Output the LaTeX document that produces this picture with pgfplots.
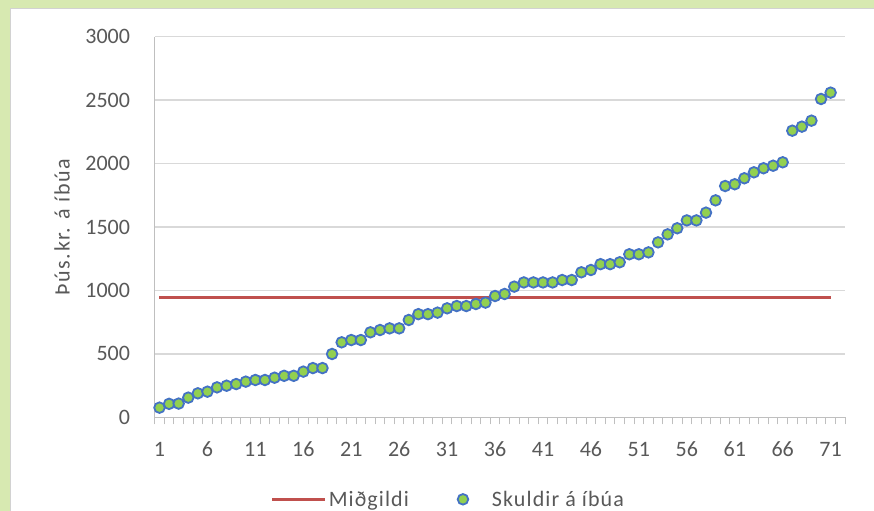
\documentclass[border=0pt]{standalone}
\usepackage{fontspec}
\setmainfont{Carlito}
\newfontfamily\spacedfont[LetterSpace=5]{Carlito}
\newfontfamily\ylabfont[LetterSpace=7]{Carlito}
\usepackage{pgfplots}
\pgfplotsset{compat=1.18}
\definecolor{bggreen}{HTML}{D7E9B1}
\definecolor{gridgray}{HTML}{D9D9D9}
\definecolor{axisgray}{HTML}{BFBFBF}
\definecolor{txtgray}{HTML}{595959}
\definecolor{medred}{HTML}{C0504D}
\definecolor{mkgreen}{HTML}{92D050}
\definecolor{mkblue}{HTML}{4472C4}
\newcommand{\chartfont}{\fontsize{22bp}{26bp}\selectfont}
\pgfplotsset{
  medlegend/.style={legend image code/.code={\draw[##1] (0bp,0bp) -- (53bp,0bp);}},
  dotlegend/.style={legend image code/.code={\path[draw=none,fill=none] (-6bp,0bp) -- (27bp,0bp); \path[##1,draw=none,fill=none] plot[only marks] coordinates {(0bp,0bp)};}},
}
\begin{document}
\begin{tikzpicture}[x=1bp,y=1bp]
\useasboundingbox (0,0) rectangle (874,511);
\fill[bggreen] (0,0) rectangle (874,511);
\fill[white] (10,0) rectangle (874,503);
\draw[gray!35, line width=0.8bp] (10.4,0) -- (10.4,502.6) -- (874,502.6);
\begin{axis}[
  at={(154.7bp,93.7bp)}, anchor=south west,
  scale only axis, width=690.3bp, height=380.6bp,
  xmin=0.5, xmax=72.5, ymin=0, ymax=3000,
  ytick={0,500,...,3000},
  xtick={1,6,...,71},
  minor xtick={0.5,1.5,...,72.5},
  major tick length=0pt,
  minor tick length=7bp,
  tick align=outside,
  xtick pos=bottom, ytick pos=left,
  axis lines*=left,
  axis line style={draw=axisgray, line width=1.2bp, -},
  minor tick style={draw=axisgray, line width=1bp},
  ymajorgrids,
  major grid style={draw=gridgray, line width=1.3bp},
  scaled y ticks=false,
  /pgf/number format/1000 sep={},
  /pgf/number format/assume math mode=true,
  tick label style={font=\chartfont, text=txtgray},
  yticklabel style={anchor=east, inner sep=0pt, xshift=-24.5bp},
  xticklabel style={anchor=north, inner sep=0pt, yshift=-24.5bp},
  ylabel={Þús.kr. á íbúa},
  ylabel style={at={(axis description cs:-0.1343,0.5)}, anchor=center, font=\chartfont\ylabfont, text=txtgray},
  legend style={at={(axis description cs:0.4256,-0.2155)}, anchor=center, draw=none, fill=none,
    legend columns=2, font=\chartfont\spacedfont, text=txtgray,
    /tikz/every even column/.append style={column sep=46bp}},
  legend cell align=left,
  clip=false,
]
\addplot[draw=medred, line width=2.8bp, medlegend]
  coordinates {(1,946) (71,946)};
\addlegendentry{Miðgildi}
\addplot[only marks, mark=*, mark size=5.3bp, dotlegend,
  mark options={fill=mkgreen, draw=mkblue, line width=1.8bp}]
  table {
x y
1 76
2 106
3 108
4 155
5 189
6 202
7 236
8 249
9 262
10 281
11 294
12 294
13 312
14 327
15 327
16 360
17 388
18 388
19 499
20 591
21 609
22 609
23 670
24 688
25 701
26 701
27 767
28 813
29 813
30 825
31 859
32 877
33 877
34 893
35 904
36 956
37 972
38 1030
39 1063
40 1063
41 1063
42 1063
43 1082
44 1082
45 1143
46 1161
47 1207
48 1207
49 1222
50 1285
51 1285
52 1300
53 1379
54 1442
55 1490
56 1552
57 1552
58 1613
59 1710
60 1823
61 1837
62 1884
63 1931
64 1963
65 1983
66 2010
67 2259
68 2291
69 2338
70 2509
71 2559
};
\addlegendentry{Skuldir á íbúa}
\end{axis}
\end{tikzpicture}
\end{document}
